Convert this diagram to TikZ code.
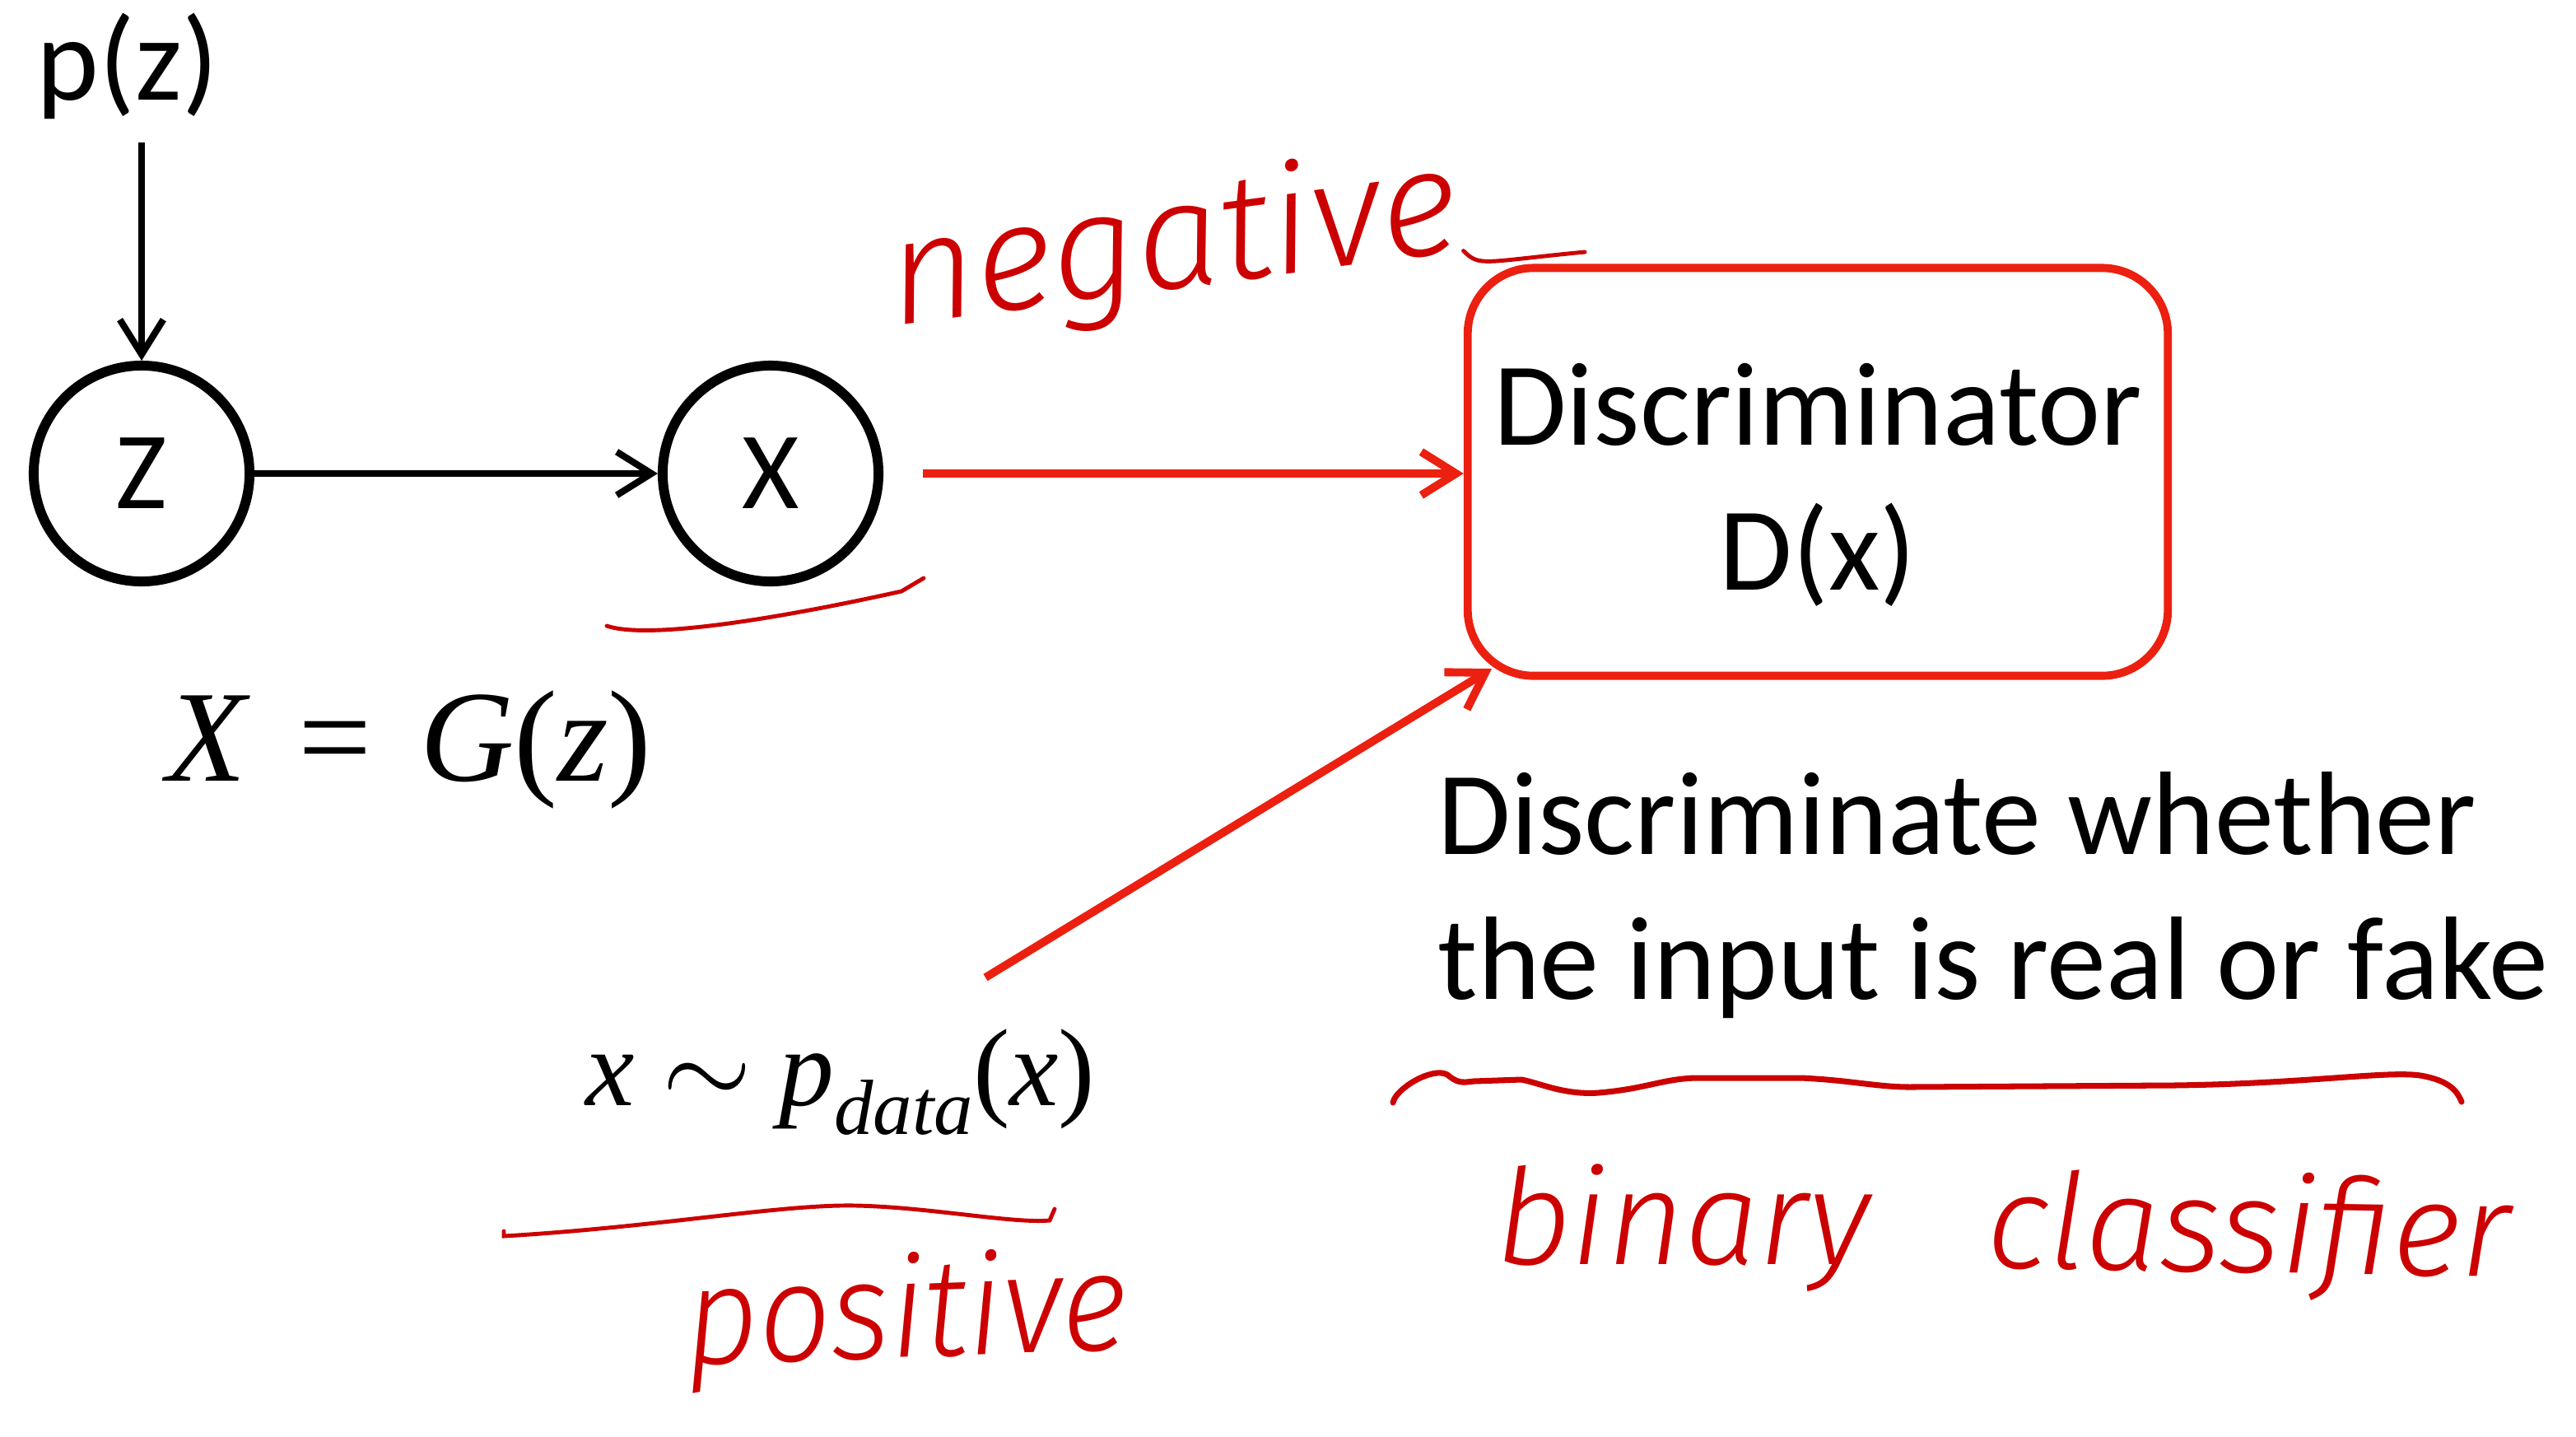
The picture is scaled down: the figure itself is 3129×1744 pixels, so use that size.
\documentclass[tikz,border=0pt]{standalone}
\usepackage{fontspec}
\usepackage{tikz}
\usetikzlibrary{arrows.meta, positioning, calc}
\newfontfamily\calibrifont{Carlito}
\newfontfamily\timesfont{Liberation Serif}
\newfontfamily\handfont{Fira Sans Light}
\definecolor{boxred}{RGB}{236,32,16}
\definecolor{penred}{RGB}{204,0,0}

\begin{document}
\begin{tikzpicture}[x=0.01cm, y=-0.01cm,
  lbl/.style={inner sep=0pt, font=\calibrifont\fontsize{41}{50}\selectfont},
  var/.style={circle, draw, line width=3.4pt, minimum size=2.62cm, inner sep=0pt, font=\calibrifont\fontsize{38}{46}\selectfont},
  arr/.style={line width=2.3pt, -{Straight Barb[length=12pt,width=15pt]}},
  redarr/.style={draw=boxred, line width=2.8pt, -{Straight Barb[length=12pt,width=15pt]}},
  pen/.style={draw=penred, line width=1.4pt, line cap=round},
  hand/.style={inner sep=0pt, text=penred, font=\handfont\itshape\fontsize{46}{46}\selectfont}]
\useasboundingbox (0,0) rectangle (3129,1744);

% generator
\node[lbl, anchor=base] (pz) at (155,121) {p(z)};
\node[var] (z) at (172,575) {Z};
\node[var] (x) at (936,575) {X};
\draw[arr, shorten <=0.28cm] (pz.south -| z.north) -- (z.north);
\draw[arr] (z) -- (x);
\node[anchor=base, font=\timesfont\fontsize{45}{50}\selectfont] (gz) at (497,948) {\textit{X}\hspace{0.12em} = \hspace{0.12em}\textit{G}(\textit{z})};

% discriminator
\node[draw=boxred, line width=2.8pt, rounded corners=0.8cm, minimum width=8.5cm, minimum height=4.95cm] (disc) at (2208,573) {};
\node[lbl, align=center] (dlabel) at (2208,589) {Discriminator\\D(x)};
\draw[redarr, shorten <=0.48cm] (x.east) -- (x.east -| disc.west);
\node[lbl, anchor=base west, align=left] (task) at (1746,1213) {Discriminate whether\\the input is real or fake};

% real data
\node[anchor=base, font=\timesfont\fontsize{38}{44}\selectfont] (pdata) at (1021,1342) {\textit{x} \scalebox{1.6}{$\sim$} \textit{p}\raisebox{-10pt}{\fontsize{27}{30}\selectfont\textit{data}}(\textit{x})};
\coordinate (dstart) at (1197,1187);
\coordinate (dtip) at (1812,812);
\draw[redarr] (dstart) -- (dtip);

% pen notes
\node[hand, rotate=7.5, anchor=base, font=\handfont\itshape\fontsize{52}{52}\selectfont] (neg) at (1432,350) {negative};
\coordinate (negend) at (1925,306);
\draw[pen] (neg.base east) .. controls +(20,20) and (1800,318) .. (negend);
\draw[pen] (737,760) .. controls (790,778) and (960,748) .. (1095,718) -- (1122,702);
\draw[pen] (612,1495) -- (612,1501) .. controls (800,1490) and (950,1462) .. (1040,1464) .. controls (1130,1466) and (1230,1486) .. (1275,1482) -- (1281,1468);
\node[hand, rotate=2, anchor=base, xscale=0.92, font=\handfont\itshape\fontsize{48}{48}\selectfont] (pos) at (1103,1648) {positive};
\draw[pen, line width=2pt] (1692,1339) .. controls (1695,1322) and (1740,1295) .. (1758,1305) .. controls (1770,1315) and (1775,1315) .. (1790,1313) -- (1848,1311) .. controls (1870,1315) and (1900,1330) .. (1942,1327) .. controls (2000,1322) and (2020,1310) .. (2060,1309) -- (2188,1309) .. controls (2250,1312) and (2280,1320) .. (2320,1320) -- (2640,1318) .. controls (2800,1316) and (2900,1300) .. (2940,1306) .. controls (2975,1312) and (2985,1325) .. (2990,1338);
\node[hand, anchor=base] (bin) at (2044,1535) {binary};
\node[hand, anchor=base, rotate=-1] (cls) at (2730,1545) {classifier};
\end{tikzpicture}
\end{document}
